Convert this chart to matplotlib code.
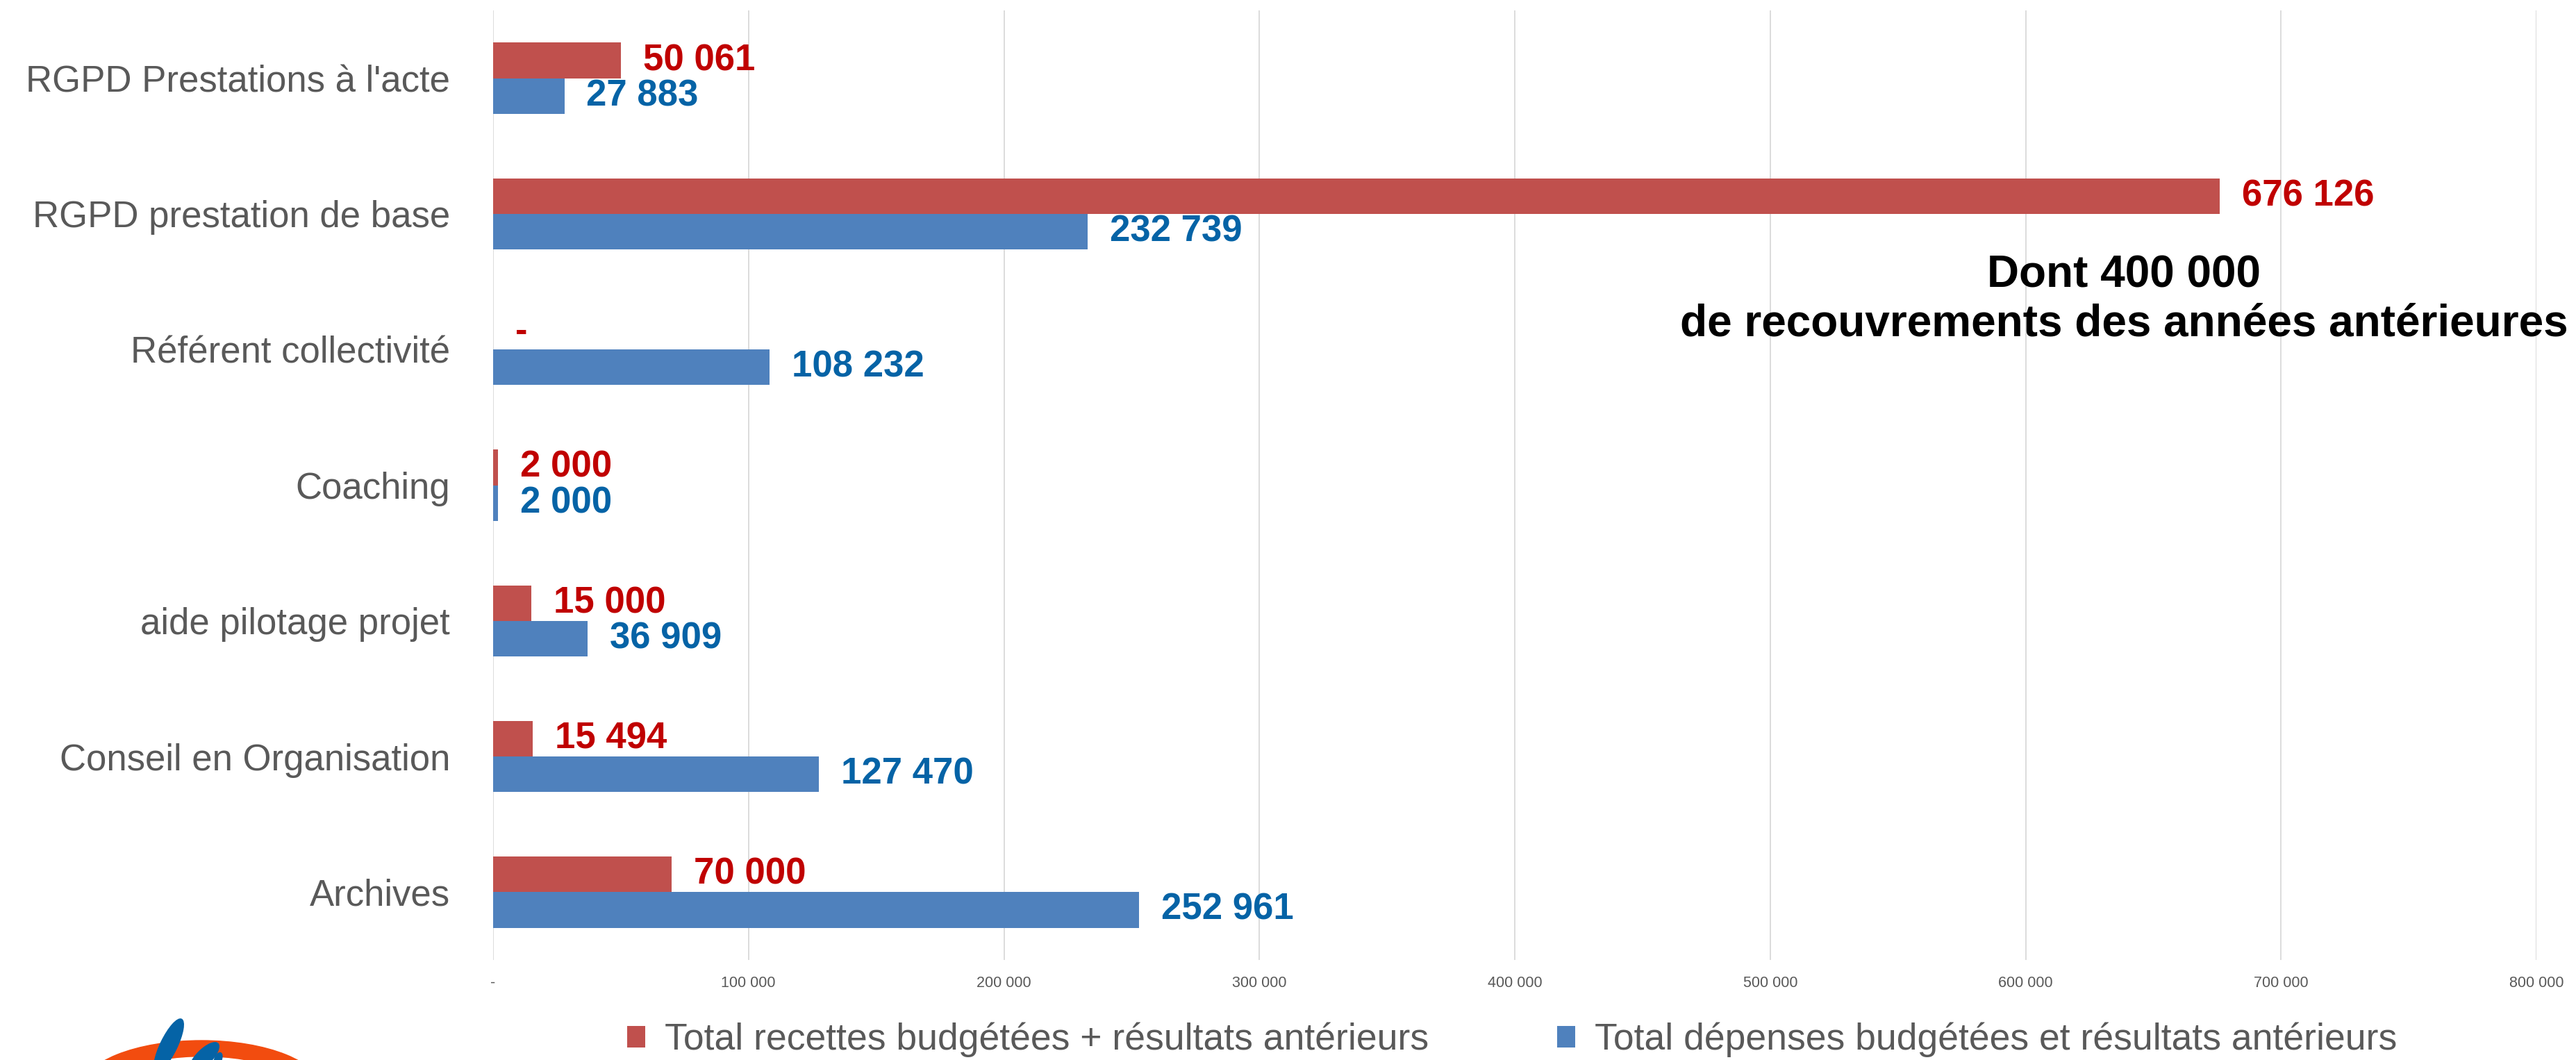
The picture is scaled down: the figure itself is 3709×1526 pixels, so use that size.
import matplotlib
matplotlib.use("Agg")
import matplotlib.pyplot as plt
from matplotlib.patches import Ellipse
from matplotlib.ticker import FixedLocator, FuncFormatter
import numpy as np

plt.rcParams['font.family'] = ['Liberation Sans', 'DejaVu Sans']

categories = ["RGPD Prestations à l'acte", "RGPD prestation de base", "Référent collectivité",
              "Coaching", "aide pilotage projet", "Conseil en Organisation", "Archives"]
recettes = [50061, 676126, 0, 2000, 15000, 15494, 70000]
depenses = [27883, 232739, 108232, 2000, 36909, 127470, 252961]
series_names = ["Total recettes budgétées + résultats antérieurs",
                "Total dépenses budgétées et résultats antérieurs"]
x_ticks = [0, 100000, 200000, 300000, 400000, 500000, 600000, 700000, 800000]
note_text = "Dont 400 000\nde recouvrements des années antérieures"

RED_BAR = '#C0504D'
BLUE_BAR = '#4F81BD'
RED_TXT = '#C00000'
BLUE_TXT = '#0563A6'
GREY = '#595959'

W, H = 3709, 1526
fig = plt.figure(figsize=(W / 100, H / 100), dpi=100)
left, right, top, bottom = 710, 3652, 15, 1382
ax = fig.add_axes([left / W, 1 - bottom / H, (right - left) / W, (bottom - top) / H])

y = np.arange(len(categories))
bh = 0.262
b1 = ax.barh(y - bh / 2, recettes, height=bh, color=RED_BAR, label=series_names[0], zorder=2)
b2 = ax.barh(y + bh / 2, depenses, height=bh, color=BLUE_BAR, label=series_names[1], zorder=2)

def fmt(v):
    if v == 0:
        return "-"
    return f"{v:,.0f}".replace(",", " ")

for rects, vals, col in ((b1, recettes, RED_TXT), (b2, depenses, BLUE_TXT)):
    for r, v in zip(rects, vals):
        ax.annotate(fmt(v), xy=(r.get_width(), r.get_y() + r.get_height() / 2),
                    xytext=(23, 0), textcoords='offset points', ha='left', va='center',
                    fontsize=38, fontweight='bold', color=col, zorder=3)

ax.set_xlim(0, 800000)
ax.set_ylim(len(categories) - 0.5, -0.5)
ax.set_yticks(y)
ax.set_yticklabels(categories, fontsize=38, color=GREY)
ax.xaxis.set_major_locator(FixedLocator(x_ticks))
ax.xaxis.set_major_formatter(FuncFormatter(lambda v, p: fmt(int(v))))
ax.tick_params(axis='x', length=0, pad=16.5, labelsize=15.5, labelcolor=GREY)
ax.tick_params(axis='y', length=0, pad=44.5)
ax.grid(axis='x', color='#D9D9D9', linewidth=1.3, zorder=0)
ax.set_axisbelow(True)
for s in ax.spines.values():
    s.set_visible(False)

# baseline of the last line at y=483 px from top
fig.text(3058 / W, 1 - 483 / H, note_text, ha='center', va='baseline', fontsize=46,
         fontweight='bold', color='black', linespacing=1.2, multialignment='center')

leg = ax.legend(loc='center', bbox_to_anchor=(2177 / W, 1 - 1497 / H), bbox_transform=fig.transFigure,
                ncol=2, frameon=False, fontsize=38.5, handlelength=0.5, handleheight=0.5,
                handletextpad=0.52, columnspacing=3.45, borderpad=0)
for t in leg.get_texts():
    t.set_color(GREY)

# logo (partially visible at the bottom-left edge)
lax = fig.add_axes([0, 0, 500 / W, 80 / H])
lax.set_xlim(0, 500)
lax.set_ylim(1526, 1446)
lax.axis('off')
lax.add_patch(Ellipse((290, 1568), 345, 140, color='#F24C0F', zorder=1))
lax.add_patch(Ellipse((292, 1580), 300, 116, color='white', zorder=2))
lax.add_patch(Ellipse((243, 1505), 84, 24, angle=np.degrees(np.arctan2(70, -34)), color='#0563A6', zorder=3))
lax.add_patch(Ellipse((294, 1522), 56, 22, angle=np.degrees(np.arctan2(37, -37)), color='#0563A6', zorder=3))
lax.add_patch(Ellipse((314, 1525), 20, 10, angle=np.degrees(np.arctan2(20, -8)), color='#0563A6', zorder=3))

fig.savefig("out.png", dpi=100)
